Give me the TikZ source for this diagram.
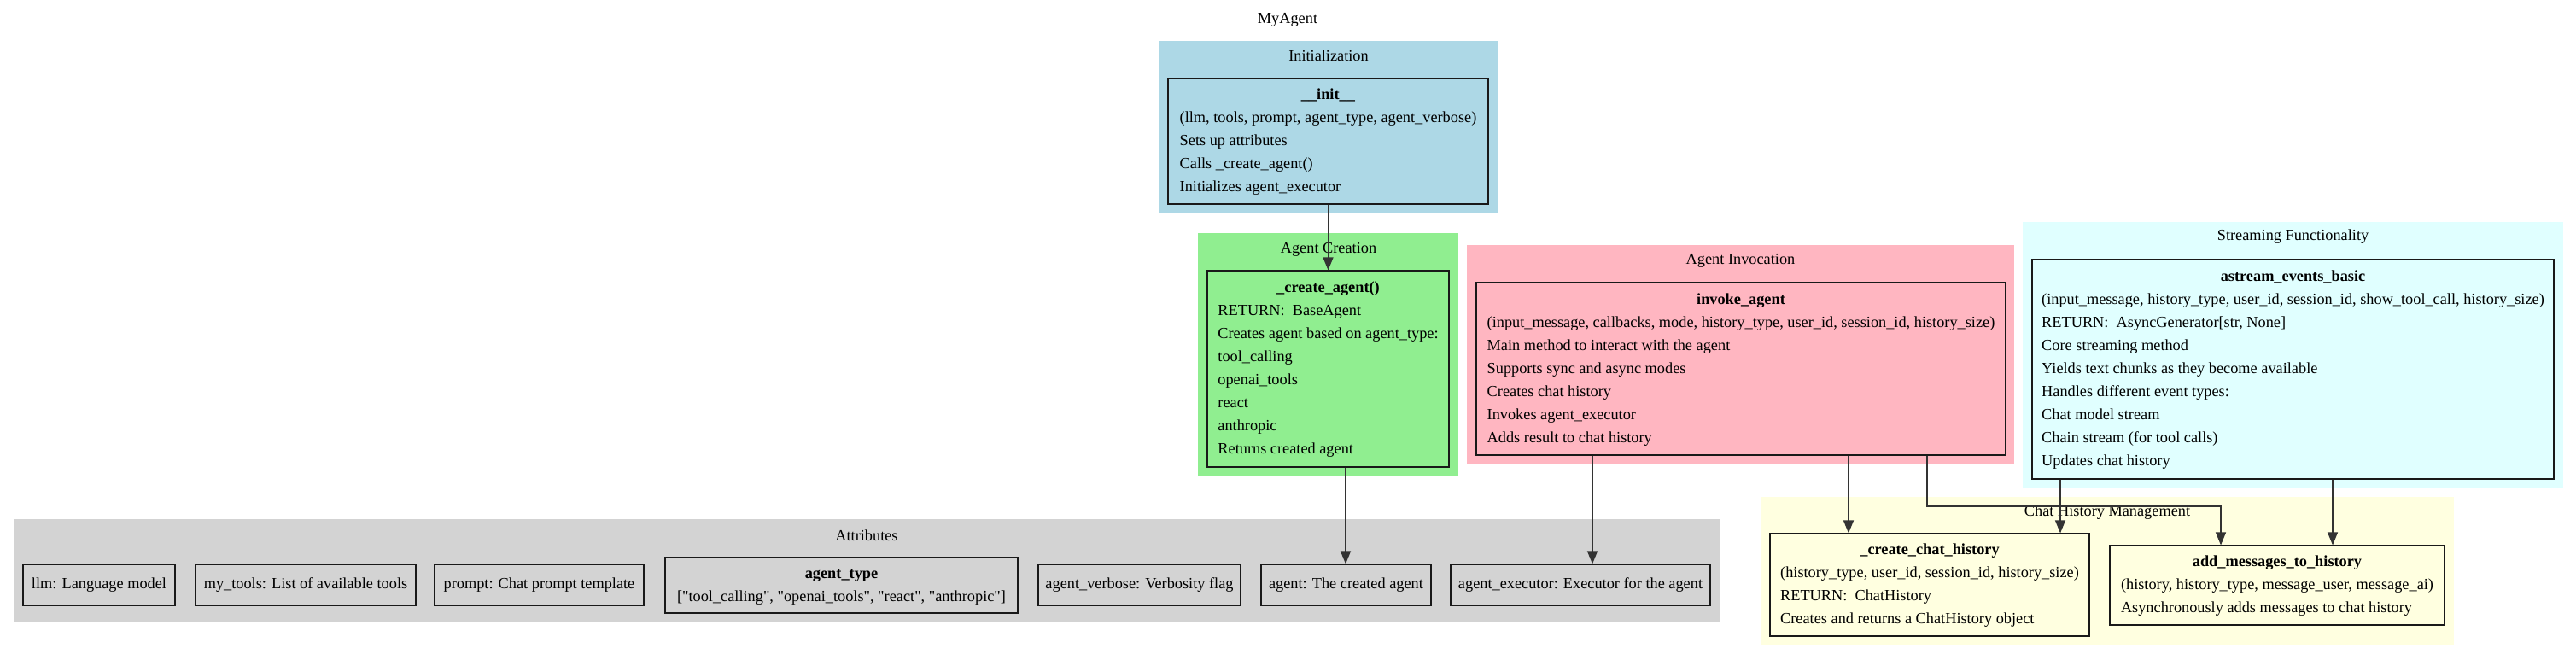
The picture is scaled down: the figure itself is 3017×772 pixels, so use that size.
\documentclass[tikz,border=0pt]{standalone}
\usepackage{fontspec}
\setmainfont{Liberation Serif}
\usetikzlibrary{arrows.meta}
\definecolor{cinitc}{HTML}{ADD8E6}
\definecolor{ccreac}{HTML}{90EE90}
\definecolor{cinvc}{HTML}{FFB6C1}
\definecolor{cstrc}{HTML}{E0FFFF}
\definecolor{cchc}{HTML}{FFFFE0}
\definecolor{cattc}{HTML}{D3D3D3}
\newcommand\fsz{\fontsize{18.3}{27}\selectfont}
\newcommand\ttl[1]{\multicolumn{1}{@{}c@{}}{\textbf{#1}}}
\newcommand\dq{\textquotedbl}
\begin{document}
\begin{tikzpicture}[x=1pt,y=-1pt,
  cluster/.style={draw=none, inner sep=0pt},
  clabel/.style={font=\fsz, inner sep=0pt},
  box/.style={draw=black!90, line width=1.1pt, inner sep=0pt, font=\fsz},
  sbox/.style={box, minimum height=48pt},
  edge/.style={line width=1.2pt, draw=black!80, -{Triangle[length=15pt,width=12pt]}},
]
\useasboundingbox (0,0) rectangle (3017,772);

% clusters
\node[cluster, fill=cinitc, minimum width=398pt, minimum height=202pt] (cinit) at (1556,149) {};
\node[cluster, fill=ccreac, minimum width=305pt, minimum height=285pt] (ccrea) at (1555.5,415.5) {};
\node[cluster, fill=cinvc, minimum width=641pt, minimum height=257pt] (cinv) at (2038.5,415.5) {};
\node[cluster, fill=cstrc, minimum width=633pt, minimum height=312pt] (cstr) at (2685.5,416) {};
\node[cluster, fill=cchc, minimum width=812pt, minimum height=174pt] (cch) at (2468,669) {};
\node[cluster, fill=cattc, minimum width=1998pt, minimum height=120pt] (catt) at (1015,668) {};

% labels
\node[clabel] (title) at (1508,23) {MyAgent};
\node[clabel] (linit) at (1556,65) {Initialization};
\node[clabel] (lcrea) at (1556,292) {Agent Creation};
\node[clabel] (linv) at (2038.5,305) {Agent Invocation};
\node[clabel] (lstr) at (2685.5,277) {Streaming Functionality};
\node[clabel] (lch) at (2468,600) {Chat History Management};
\node[clabel] (latt) at (1015,627) {Attributes};

% method nodes
\node[box, minimum width=375pt, minimum height=147pt] (init) at (1555.5,165.5) {\begin{tabular}{@{}l@{}}\ttl{\_\_init\_\_}\\ (llm, tools, prompt, agent\_type, agent\_verbose)\\ Sets up attributes\\ Calls \_create\_agent()\\ Initializes agent\_executor\end{tabular}};

\node[box, minimum width=283pt, minimum height=230pt] (crea) at (1555.5,432) {\begin{tabular}{@{}l@{}}\ttl{\_create\_agent()}\\ RETURN:\ \ BaseAgent\\ Creates agent based on agent\_type:\\ tool\_calling\\ openai\_tools\\ react\\ anthropic\\ Returns created agent\end{tabular}};

\node[box, minimum width=620pt, minimum height=202pt] (inv) at (2039,432) {\begin{tabular}{@{}l@{}}\ttl{invoke\_agent}\\ (input\_message, callbacks, mode, history\_type, user\_id, session\_id, history\_size)\\ Main method to interact with the agent\\ Supports sync and async modes\\ Creates chat history\\ Invokes agent\_executor\\ Adds result to chat history\end{tabular}};

\node[box, minimum width=611pt, minimum height=257pt] (astr) at (2685.5,432.5) {\begin{tabular}{@{}l@{}}\ttl{astream\_events\_basic}\\ (input\_message, history\_type, user\_id, session\_id, show\_tool\_call, history\_size)\\ RETURN:\ \ AsyncGenerator{[}str, None{]}\\ Core streaming method\\ Yields text chunks as they become available\\ Handles different event types:\\ Chat model stream\\ Chain stream (for tool calls)\\ Updates chat history\end{tabular}};

\node[box, minimum width=374pt, minimum height=120pt] (cchist) at (2260,685) {\begin{tabular}{@{}l@{}}\ttl{\_create\_chat\_history}\\ (history\_type, user\_id, session\_id, history\_size)\\ RETURN:\ \ ChatHistory\\ Creates and returns a ChatHistory object\end{tabular}};

\node[box, minimum width=392pt, minimum height=93pt] (addm) at (2667,685.5) {\begin{tabular}{@{}l@{}}\ttl{add\_messages\_to\_history}\\ (history, history\_type, message\_user, message\_ai)\\ Asynchronously adds messages to chat history\end{tabular}};

% attribute nodes
\node[sbox, minimum width=178pt] (llm) at (116,685) {llm: Language model};
\node[sbox, minimum width=258pt] (mytools) at (358,685) {my\_tools: List of available tools};
\node[sbox, minimum width=245pt] (prompt) at (631.5,685) {prompt: Chat prompt template};
\node[box, minimum width=413pt, minimum height=65pt] (atype) at (985.5,685.5) {\begin{tabular}{@{}c@{}}\textbf{agent\_type}\\ {[}\dq tool\_calling\dq, \dq openai\_tools\dq, \dq react\dq, \dq anthropic\dq{]}\end{tabular}};
\node[sbox, minimum width=237pt] (averb) at (1334.5,685) {agent\_verbose: Verbosity flag};
\node[sbox, minimum width=199pt] (agent) at (1576.5,685) {agent: The created agent};
\node[sbox, minimum width=304pt] (aexec) at (1851,685) {agent\_executor: Executor for the agent};

% helper coordinates
\coordinate (xexec) at (1865,0);
\coordinate (xcch) at (2165,0);
\coordinate (k1) at (2257,593);
\coordinate (k2) at (2601,593);
\coordinate (xs1) at (2413,0);
\coordinate (xs2) at (2732,0);
\coordinate (xag) at (1576,0);

% edges
\draw[edge] (init.south) -- (crea.north);
\draw[edge] (crea.south -| xag) -- (agent.north -| xag);
\draw[edge] (inv.south -| xexec) -- (aexec.north -| xexec);
\draw[edge] (inv.south -| xcch) -- (cchist.north -| xcch);
\draw[edge] (inv.south -| k1) -- (k1) -- (k2) -- (addm.north -| k2);
\draw[edge] (astr.south -| xs1) -- (cchist.north -| xs1);
\draw[edge] (astr.south -| xs2) -- (addm.north -| xs2);
\end{tikzpicture}
\end{document}
